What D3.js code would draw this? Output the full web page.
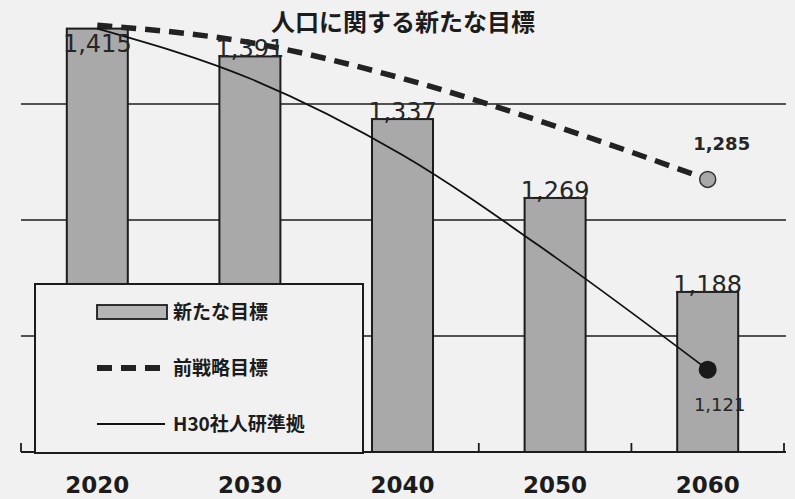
<!DOCTYPE html>
<html><head><meta charset="utf-8">
<script src="https://cdn.jsdelivr.net/npm/d3@7"></script>
<style>
html,body{margin:0;padding:0;background:#f1f1f1;}
svg{display:block;}
</style></head>
<body>
<svg id="c" width="795" height="499"></svg>
<script>
const categories = ["2020", "2030", "2040", "2050", "2060"];
const newTarget = [1415, 1391, 1337, 1269, 1188];        // 新たな目標 (bars)
const prevStrategy = [1418, 1403, 1372, 1331, 1285];     // 前戦略目標 (dashed)
const ipss = [1415, 1372, 1306, 1218, 1121];             // H30社人研準拠 (solid)
const gridValues = [1150, 1250, 1350];
const title = "人口に関する新たな目標";
const legendLabels = ["新たな目標", "前戦略目標", "H30社人研準拠"];

const svg = d3.select("#c");
const ink = "#1c1c1c";
const jp = "'Noto Sans CJK JP','Noto Sans',sans-serif";
const num = "'DejaVu Sans',Verdana,sans-serif";

const x = d3.scaleBand().domain(categories).range([21, 784]).paddingInner(0.6).paddingOuter(0.3);
const xb = d3.scaleBand().domain(categories).range([21, 784]);
const y = d3.scaleLinear().domain([1050, 1350]).range([452, 104]);
const cx = d => xb(d) + xb.bandwidth() / 2;

svg.append("rect").attr("width", 795).attr("height", 499).attr("fill", "#f1f1f1");

// gridlines
svg.append("g").selectAll("line").data(gridValues).join("line")
  .attr("x1", 21).attr("x2", 786)
  .attr("y1", d => y(d)).attr("y2", d => y(d))
  .attr("stroke", ink).attr("stroke-width", 1.5);

// bars
const bw = 61;
svg.append("g").selectAll("rect").data(newTarget).join("rect")
  .attr("x", (d, i) => cx(categories[i]) - bw / 2)
  .attr("y", d => y(d))
  .attr("width", bw)
  .attr("height", d => y(1050) - y(d))
  .attr("fill", "#a9a9a9").attr("stroke", ink).attr("stroke-width", 2);

// x axis baseline and ticks
const axis = d3.axisBottom(xb).tickSize(0).tickFormat("");
svg.append("line").attr("x1", 21).attr("x2", 786).attr("y1", y(1050)).attr("y2", y(1050))
  .attr("stroke", ink).attr("stroke-width", 2);
const bounds = categories.map(c => xb(c)).concat([xb.range()[1]]);
svg.append("g").selectAll("line").data(bounds).join("line")
  .attr("x1", d => d).attr("x2", d => d)
  .attr("y1", y(1050)).attr("y2", y(1050) - 9)
  .attr("stroke", ink).attr("stroke-width", 1.8);

// x labels
svg.append("g").selectAll("text").data(categories).join("text")
  .attr("x", d => cx(d)).attr("y", 493)
  .attr("text-anchor", "middle")
  .attr("font-family", num).attr("font-weight", "bold").attr("font-size", 23)
  .attr("fill", ink).text(d => d);

// lines
const line = d3.line().x((d, i) => cx(categories[i])).y(d => y(d)).curve(d3.curveMonotoneX);
svg.append("path").datum(prevStrategy).attr("d", line)
  .attr("fill", "none").attr("stroke", "#222").attr("stroke-width", 5.5)
  .attr("stroke-dasharray", "15,9");
svg.append("path").datum(ipss).attr("d", line)
  .attr("fill", "none").attr("stroke", "#111").attr("stroke-width", 1.8);

// end markers
const last = categories.length - 1;
svg.append("circle").attr("cx", cx(categories[last])).attr("cy", y(prevStrategy[last])).attr("r", 8)
  .attr("fill", "#a8a8a8").attr("stroke", "#333").attr("stroke-width", 1.5);
svg.append("circle").attr("cx", cx(categories[last])).attr("cy", y(ipss[last])).attr("r", 9)
  .attr("fill", "#1a1a1a");

// bar data labels
svg.append("g").selectAll("text").data(newTarget).join("text")
  .attr("x", (d, i) => cx(categories[i]))
  .attr("y", d => Math.max(y(d) + 1, 52))
  .attr("text-anchor", "middle")
  .attr("font-family", num).attr("font-size", 24)
  .attr("fill", "#262626").text(d => d3.format(",")(d));

// end value labels
svg.append("text").attr("x", cx(categories[last]) + 14).attr("y", y(prevStrategy[last]) - 29)
  .attr("text-anchor", "middle").attr("font-family", num).attr("font-weight", "bold")
  .attr("font-size", 18).attr("fill", "#262626").text(d3.format(",")(prevStrategy[last]));
svg.append("text").attr("x", cx(categories[last]) + 12).attr("y", y(ipss[last]) + 41)
  .attr("text-anchor", "middle").attr("font-family", num)
  .attr("font-size", 18).attr("fill", "#262626").text(d3.format(",")(ipss[last]));

// title
svg.append("text").attr("x", 403).attr("y", 31).attr("text-anchor", "middle")
  .attr("font-family", jp).attr("font-weight", "bold").attr("font-size", 24)
  .attr("fill", ink).text(title);

// legend
const lg = svg.append("g");
lg.append("rect").attr("x", 35).attr("y", 284).attr("width", 328).attr("height", 169)
  .attr("fill", "#f1f1f1").attr("stroke", ink).attr("stroke-width", 2);
const rowsY = [312, 368, 424];
lg.append("rect").attr("x", 97).attr("y", 305).attr("width", 70).attr("height", 14)
  .attr("fill", "#b5b5b5").attr("stroke", ink).attr("stroke-width", 1.8);
lg.append("line").attr("x1", 97).attr("x2", 163).attr("y1", rowsY[1]).attr("y2", rowsY[1])
  .attr("stroke", "#222").attr("stroke-width", 6).attr("stroke-dasharray", "15,9");
lg.append("line").attr("x1", 97).attr("x2", 165).attr("y1", rowsY[2]).attr("y2", rowsY[2])
  .attr("stroke", "#111").attr("stroke-width", 2);
lg.selectAll("text").data(legendLabels).join("text")
  .attr("x", 173).attr("y", (d, i) => rowsY[i] + 7)
  .attr("font-family", jp).attr("font-weight", "bold").attr("font-size", 19)
  .attr("fill", ink).text(d => d);
</script>
</body></html>
